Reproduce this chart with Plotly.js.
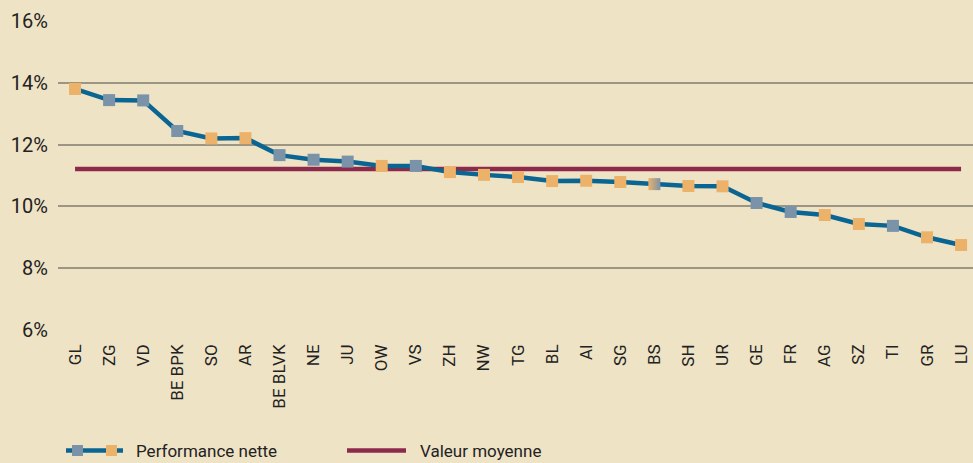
<!DOCTYPE html>
<html><head><meta charset="utf-8">
<script src="https://cdn.plot.ly/plotly-3.0.1.min.js"></script>
<style>html,body{margin:0;padding:0;background:#EFE3C6;}</style>
</head><body><div id="chart" style="width:973px;height:463px;"></div>
<script>
const cantons = ["GL","ZG","VD","BE BPK","SO","AR","BE BLVK","NE","JU","OW","VS","ZH","NW","TG","BL","AI","SG","BS","SH","UR","GE","FR","AG","SZ","TI","GR","LU"];
const performance = [13.80,13.44,13.43,12.44,12.20,12.21,11.66,11.51,11.45,11.31,11.31,11.11,11.02,10.95,10.82,10.83,10.79,10.72,10.66,10.65,10.11,9.82,9.72,9.43,9.37,9.00,8.75];
const markerGroup = ["o","g","g","g","o","o","g","g","g","o","g","o","o","o","o","o","o","og","o","o","g","g","o","o","g","o","o"];
const meanValue = 11.21;
const yTicks = [6,8,10,12,14,16];
const yTickText = ["6%","8%","10%","12%","14%","16%"];

const ORANGE = "#EDB26A", GRAY = "#7A93A8", BLUE = "#0A6592", MEAN = "#8B2A4A";
const mColors = markerGroup.map(g => g === "g" ? GRAY : ORANGE);
const gradType = markerGroup.map(g => g === "og" ? "horizontal" : "none");
const gradColor = markerGroup.map(g => g === "og" ? GRAY : ORANGE);

const traces = [
  {x: cantons, y: cantons.map(() => meanValue), type: "scatter", mode: "lines",
   line: {color: MEAN, width: 4.5}, hoverinfo: "skip", showlegend: false},
  {x: cantons, y: performance, type: "scatter", mode: "lines+markers",
   line: {color: BLUE, width: 4.5},
   marker: {symbol: "square", size: 12, color: mColors, line: {width: 0},
            gradient: {type: gradType, color: gradColor}},
   showlegend: false}
];

const fam = "Roboto, 'Liberation Sans', sans-serif";
const layout = {
  width: 973, height: 463,
  paper_bgcolor: "#EFE3C6", plot_bgcolor: "#EFE3C6",
  margin: {l: 58, r: 0, t: 21, b: 133},
  showlegend: false,
  xaxis: {type: "category", range: [-0.5, 26.35], showgrid: false, zeroline: false,
          showline: false, ticks: "", tickangle: -90, ticklabelstandoff: 10,
          tickfont: {family: fam, size: 17, color: "#222"}},
  yaxis: {range: [6, 16], tickvals: yTicks, ticktext: yTickText,
          showgrid: true, gridcolor: "#9C9584", gridwidth: 2, zeroline: false,
          showline: false, ticks: "", ticklabelstandoff: 9,
          tickfont: {family: fam, size: 20, color: "#222"}},
  shapes: [
    {type: "line", xref: "paper", yref: "paper", x0: 8/915, x1: 65/915, y0: -0.39, y1: -0.39,
     line: {color: BLUE, width: 4.5}},
    {type: "rect", xref: "paper", yref: "paper", x0: 14/915, x1: 25/915, y0: -0.39 - 5.5/309, y1: -0.39 + 5.5/309,
     fillcolor: GRAY, line: {width: 0}},
    {type: "rect", xref: "paper", yref: "paper", x0: 48/915, x1: 59/915, y0: -0.39 - 5.5/309, y1: -0.39 + 5.5/309,
     fillcolor: ORANGE, line: {width: 0}},
    {type: "line", xref: "paper", yref: "paper", x0: 289/915, x1: 348/915, y0: -0.39, y1: -0.39,
     line: {color: MEAN, width: 4.5}}
  ],
  annotations: [
    {text: "Performance nette", xref: "paper", yref: "paper", x: 76/915, y: -0.39,
     xanchor: "left", yanchor: "middle", showarrow: false,
     font: {family: fam, size: 17, color: "#222"}},
    {text: "Valeur moyenne", xref: "paper", yref: "paper", x: 360/915, y: -0.39,
     xanchor: "left", yanchor: "middle", showarrow: false,
     font: {family: fam, size: 17, color: "#222"}}
  ]
};
Plotly.newPlot("chart", traces, layout, {staticPlot: true, displayModeBar: false});
</script></body></html>
